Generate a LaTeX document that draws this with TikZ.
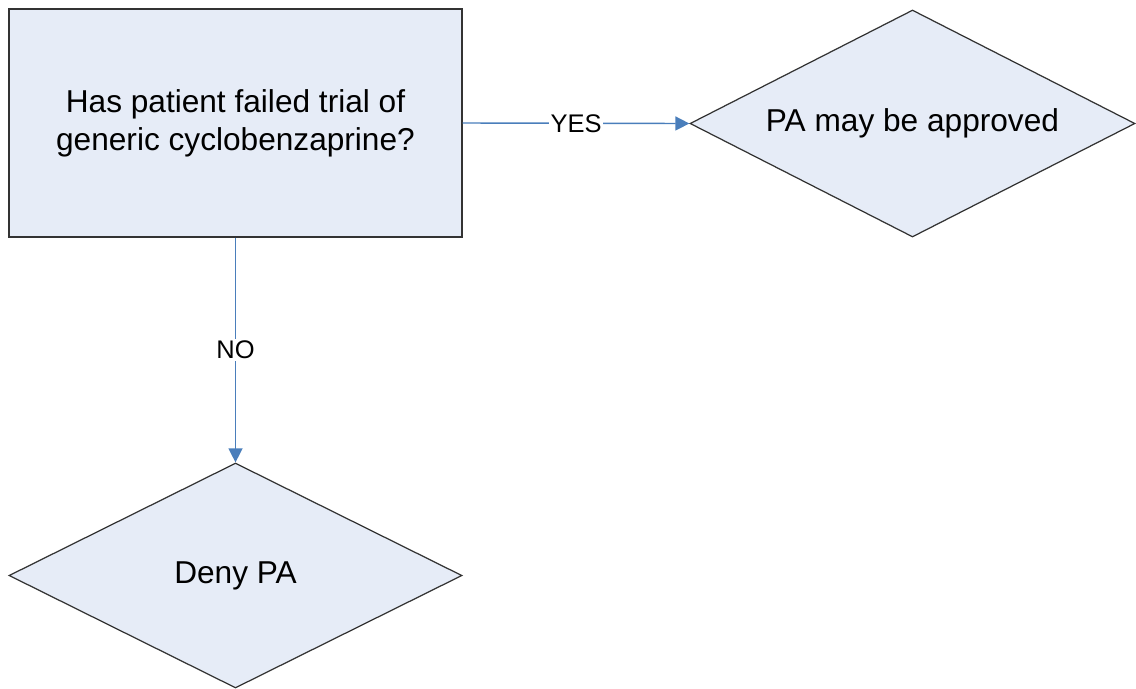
\documentclass[tikz,border=0pt]{standalone}
\usepackage{fontspec}
\setmainfont{Liberation Sans}
\usetikzlibrary{shapes.geometric,arrows.meta}
\definecolor{boxfill}{HTML}{E6ECF7}
\definecolor{linkblue}{HTML}{4A7EBB}
\begin{document}
\begin{tikzpicture}[
  question/.style={draw=black!80, fill=boxfill, line width=0.7pt, minimum width=9.06cm, minimum height=4.56cm, align=center, font=\fontsize{18}{21.6}\selectfont},
  outcome/.style={draw=black!80, fill=boxfill, line width=0.7pt, diamond, aspect=2, inner sep=0pt, font=\fontsize{18}{21.6}\selectfont},
  link/.style={draw=linkblue, line width=0.8pt, -{Triangle[length=2.8mm,width=2.8mm]}},
  answer/.style={fill=white, inner sep=1pt, font=\fontsize{14.5}{17}\selectfont}
]
\useasboundingbox (0,0) rectangle (22.72,-13.76);
\node[question] (q) at (4.71,-2.46) {Has patient failed trial of\\generic cyclobenzaprine?};
\node[outcome, minimum width=8.9cm, minimum height=4.54cm] (yes) at (18.25,-2.47) {PA may be approved};
\node[outcome, minimum width=9.06cm, minimum height=4.5cm] (no) at (4.71,-11.51) {Deny PA};

\path[link] (q.east) -- node[answer] {YES} (yes.west);
\path[link] (q.south) -- node[answer] {NO} (no.north);
\end{tikzpicture}
\end{document}
